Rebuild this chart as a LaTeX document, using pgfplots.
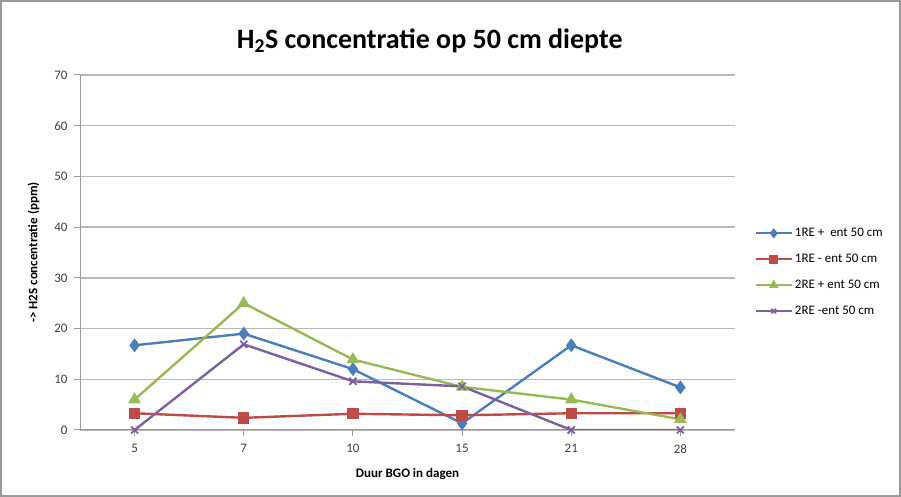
\documentclass[border=0pt]{standalone}
\usepackage{fontspec}
\setmainfont{Carlito}
\usepackage{pgfplots}
\pgfplotsset{compat=1.18}

\definecolor{xlblue}{HTML}{4A7EBB}
\definecolor{xlred}{HTML}{BE4B48}
\definecolor{xlgreen}{HTML}{98B954}
\definecolor{xlpurple}{HTML}{7D60A0}
\definecolor{gridc}{HTML}{BDB6B6}
\definecolor{axisc}{HTML}{9A9A9A}

\begin{document}
\begin{tikzpicture}
\useasboundingbox (0,0) rectangle (901pt,497pt);
\draw[axisc, line width=1.2pt] (1pt,1pt) rectangle (900pt,496pt);
\begin{axis}[
    at={(80pt,67pt)}, anchor=south west,
    scale only axis, width=655pt, height=355pt,
    xmin=-0.5, xmax=5.5, ymin=0, ymax=70,
    xtick={0,...,5}, xticklabels={5,7,10,15,21,28},
    ytick={0,10,...,70},
    axis x line*=bottom, axis y line*=left,
    axis line style={axisc, line width=1pt},
    ymajorgrids, grid style={gridc, line width=1.3pt},
    tick style={axisc, line width=1pt},
    major tick length=6pt, tick align=outside,
    /pgf/number format/assume math mode=true,
    ticklabel style={font=\fontsize{13}{15}\selectfont, text=black!75},
    xticklabel style={yshift=-5pt},
    yticklabel style={xshift=-3pt},
    title={\textbf{H\textsubscript{2}S concentratie op 50 cm diepte}},
    title style={font=\fontsize{28}{32}\selectfont, at={(0.534,1.08)}, anchor=center},
    xlabel={\textbf{Duur BGO in dagen}},
    ylabel={\textbf{-> H2S concentratie (ppm)}},
    label style={font=\fontsize{13}{15}\selectfont},
    xlabel style={yshift=-8pt},
    ylabel style={yshift=8pt},
    legend style={at={(1.025,0.58)}, anchor=north west, draw=none,
        font=\fontsize{13}{15}\selectfont, row sep=12pt, fill=none},
    legend cell align=left,
    legend image code/.code={
        \draw[mark repeat=2, mark phase=2, #1, mark size=3.2pt] plot coordinates {(0pt,0pt) (18pt,0pt) (36pt,0pt)};},
    every axis plot/.append style={line width=2.4pt},
]
\addplot[xlblue, mark=diamond*, mark size=5pt] coordinates {
    (0,16.7) (1,19.0) (2,12.0) (3,1.3) (4,16.7) (5,8.4)};
\addplot[xlred, mark=square*, mark size=4.5pt] coordinates {
    (0,3.3) (1,2.4) (2,3.2) (3,2.9) (4,3.3) (5,3.3)};
\addplot[xlgreen, mark=triangle*, mark size=5pt] coordinates {
    (0,6.0) (1,25.0) (2,13.9) (3,8.5) (4,6.0) (5,2.1)};
\addplot[xlpurple, mark=x, mark size=5pt, mark options={line width=1.8pt}] coordinates {
    (0,0) (1,16.9) (2,9.6) (3,8.6) (4,0) (5,0)};
\legend{1RE +\ \ ent 50 cm, 1RE - ent 50 cm, 2RE + ent 50 cm, 2RE -ent 50 cm}
\end{axis}
\end{tikzpicture}
\end{document}
